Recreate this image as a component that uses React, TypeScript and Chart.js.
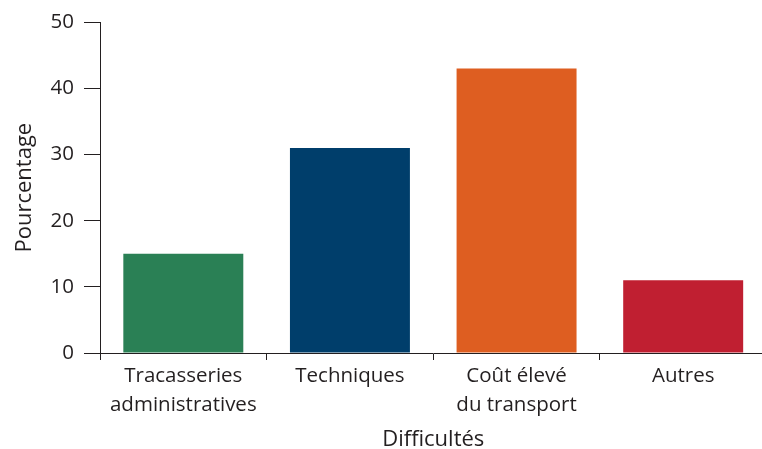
import React, { useEffect, useRef } from "react";
import { Chart, registerables } from "chart.js";

Chart.register(...registerables);

const categories: (string | string[])[] = [
  ["Tracasseries", "administratives"],
  "Techniques",
  ["Coût élevé", "du transport"],
  "Autres",
];
const values = [15, 31, 43, 11];
const barColors = ["#2a8055", "#003e6b", "#de5e21", "#c01f31"];
const yTicks = [0, 10, 20, 30, 40, 50];
const xTitle = "Difficultés";
const yTitle = "Pourcentage";

const FONT = "'Open Sans', sans-serif";
const INK = "#231f20";

export default function App() {
  const ref = useRef<HTMLCanvasElement | null>(null);
  useEffect(() => {
    if (!ref.current) return;
    const chart = new Chart(ref.current, {
      type: "bar",
      data: {
        labels: categories,
        datasets: [
          {
            data: values,
            backgroundColor: barColors,
            barPercentage: 0.72,
            categoryPercentage: 1,
          },
        ],
      },
      options: {
        animation: false,
        responsive: false,
        maintainAspectRatio: false,
        layout: { padding: { top: 19, right: 1.5, left: 0, bottom: 0 } },
        plugins: { legend: { display: false }, tooltip: { enabled: false } },
        scales: {
          x: {
            z: 1,
            offset: true,
            grid: {
              offset: true,
              drawOnChartArea: false,
              tickLength: 7,
              color: INK,
              lineWidth: 1,
            },
            border: { display: true, color: INK, width: 1 },
            ticks: {
              color: INK,
              font: { family: FONT, size: 20.5, lineHeight: 1.42 },
              padding: 1.5,
              maxRotation: 0,
              autoSkip: false,
            },
            title: {
              display: true,
              text: xTitle,
              color: INK,
              font: { family: FONT, size: 22 },
              padding: { top: 0, bottom: -4 },
            },
            afterFit: (s: any) => {
              s.height = 96;
            },
          },
          y: {
            min: 0,
            max: 50,
            afterBuildTicks: (s: any) => {
              s.ticks = yTicks.map((v) => ({ value: v }));
            },
            grid: {
              drawOnChartArea: false,
              tickLength: 16,
              color: INK,
              lineWidth: 1,
            },
            border: { display: true, color: INK, width: 1 },
            ticks: {
              color: INK,
              font: { family: FONT, size: 20.5 },
              padding: 10,
            },
            title: {
              display: true,
              text: yTitle,
              color: INK,
              font: { family: FONT, size: 22 },
              padding: { top: 12, bottom: 0 },
            },
            afterFit: (s: any) => {
              s.width = 100;
            },
          },
        },
      },
    });
    return () => chart.destroy();
  }, []);
  return (
    <div
      style={{
        position: "fixed",
        left: 0,
        top: 0,
        width: 762,
        height: 449,
        overflow: "hidden",
        background: "#fff",
      }}
    >
      <canvas ref={ref} width={768} height={449} style={{ display: "block" }} />
    </div>
  );
}
